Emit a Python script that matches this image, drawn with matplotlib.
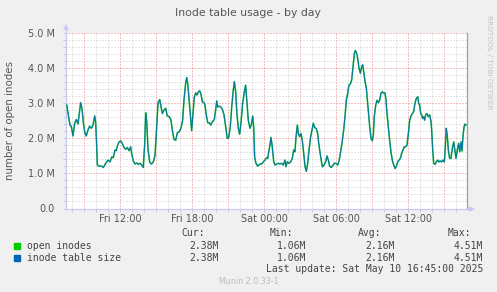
import datetime as dt
import matplotlib
matplotlib.use("Agg")
import matplotlib.pyplot as plt
import matplotlib.dates as mdates
from matplotlib.ticker import MultipleLocator, FuncFormatter
from matplotlib.patches import Rectangle

# ---- data (hours since Fri 2025-05-09 00:00, values in millions) ----
hours = [
    7.56, 7.67, 7.83, 7.94, 8.08, 8.22, 8.36, 8.50, 8.64, 8.72, 8.83, 8.94,
    9.08, 9.19, 9.33, 9.47, 9.61, 9.75, 9.89, 9.97, 10.06, 10.11, 10.25, 10.47,
    10.61, 10.81, 11.00, 11.17, 11.31, 11.44, 11.58, 11.69, 11.78, 11.92, 12.06,
    12.19, 12.33, 12.47, 12.61, 12.75, 12.89, 12.97, 13.11, 13.25, 13.39, 13.53,
    13.67, 13.81, 13.94, 14.06, 14.14, 14.22, 14.33, 14.47, 14.61, 14.78, 14.92,
    15.06, 15.17, 15.31, 15.42, 15.53, 15.67, 15.81, 15.94,
    16.11, 16.25, 16.36, 16.50, 16.64, 16.78, 16.94, 17.08, 17.22, 17.33, 17.47,
    17.56, 17.64, 17.75, 17.89, 17.97, 18.08, 18.19, 18.31, 18.42, 18.53, 18.64,
    18.75, 18.86, 19.00, 19.08, 19.19, 19.31, 19.44, 19.56, 19.69, 19.86, 19.97,
    20.06, 20.14, 20.25, 20.39, 20.53, 20.67, 20.81, 20.94, 21.06, 21.19, 21.31,
    21.44, 21.53, 21.64, 21.75, 21.86, 21.97, 22.08, 22.22, 22.36, 22.47, 22.56,
    22.69, 22.83, 22.94, 23.06, 23.14, 23.22, 23.33, 23.47, 23.67, 23.81, 23.94,
    24.08, 24.22, 24.31, 24.42, 24.50,
    24.58, 24.69, 24.81, 24.92, 25.06, 25.19, 25.33, 25.47, 25.61, 25.75, 25.83,
    25.94, 26.08, 26.22, 26.36, 26.47, 26.58, 26.67, 26.78, 26.86, 26.97, 27.08,
    27.19, 27.31, 27.42, 27.53, 27.64, 27.75, 27.89, 28.00, 28.11, 28.22, 28.36,
    28.47, 28.58, 28.72, 28.86, 29.00, 29.14, 29.25, 29.36, 29.47, 29.61, 29.75,
    29.86, 30.00, 30.14, 30.25, 30.39, 30.53, 30.64, 30.75, 30.86, 30.97, 31.08,
    31.19, 31.31, 31.42, 31.53, 31.61, 31.72, 31.81, 31.92, 32.03, 32.14, 32.22,
    32.33, 32.42, 32.53,
    32.72, 32.81, 32.92, 33.03, 33.11, 33.19, 33.31, 33.42, 33.53, 33.64, 33.75,
    33.86, 33.97, 34.08, 34.17, 34.25, 34.36, 34.47, 34.58, 34.69, 34.81, 34.92,
    35.03, 35.14, 35.25, 35.36, 35.47, 35.58, 35.69, 35.81, 35.92, 36.03, 36.14,
    36.25, 36.36, 36.47, 36.58, 36.69, 36.81, 36.89, 36.97, 37.06, 37.14, 37.22,
    37.31, 37.39, 37.47, 37.58, 37.69, 37.81, 37.92, 37.97, 38.06, 38.14, 38.25,
    38.36, 38.47, 38.58, 38.69, 38.81, 38.92, 39.03, 39.11, 39.19, 39.28, 39.36,
    39.47, 39.58, 39.69, 39.81, 39.92, 40.00, 40.11, 40.22, 40.31, 40.42, 40.50,
    40.58, 40.67, 40.75, 40.83,
]
open_inodes = [
    2.95, 2.71, 2.38, 2.35, 2.07, 2.43, 2.54, 2.41, 2.81, 3.02, 2.86, 2.47,
    2.14, 2.07, 2.24, 2.35, 2.29, 2.38, 2.64, 2.47, 1.76, 1.24, 1.21, 1.21,
    1.17, 1.29, 1.38, 1.33, 1.47, 1.45, 1.67, 1.65, 1.78, 1.90, 1.93,
    1.86, 1.74, 1.69, 1.74, 1.65, 1.76, 1.57, 1.36, 1.27, 1.30, 1.26,
    1.29, 1.24, 1.17, 1.86, 2.73, 2.52, 1.71, 1.33, 1.27, 1.33, 1.52,
    2.33, 3.02, 3.11, 2.90, 2.71, 2.81, 2.86, 2.64,
    2.62, 2.52, 2.24, 1.97, 1.95, 2.16, 2.19, 2.29, 2.52, 3.09, 3.57,
    3.74, 3.57, 3.14, 2.57, 2.22, 2.71, 3.17, 3.30, 3.24, 3.33, 3.36,
    3.26, 3.05, 3.02, 2.95, 2.67, 2.45, 2.45, 2.38, 2.47, 2.54, 2.81,
    3.07, 2.90, 2.92, 2.90, 2.83, 2.67, 2.33, 2.00, 2.03, 2.33, 2.90,
    3.38, 3.62, 3.33, 2.67, 2.29, 2.12, 2.43, 3.00, 3.33, 3.52, 3.12,
    2.52, 2.29, 2.38, 2.64, 2.33, 1.47, 1.29, 1.21, 1.27, 1.27, 1.33,
    1.38, 1.45, 1.43, 1.67, 1.81,
    2.03, 1.76, 1.33, 1.24, 1.27, 1.29, 1.27, 1.29, 1.24, 1.38, 1.19,
    1.33, 1.29, 1.33, 1.43, 1.67, 1.62, 2.05, 2.38, 2.14, 2.05, 2.14,
    1.95, 1.57, 1.19, 1.06, 1.29, 1.67, 2.05, 2.24, 2.43, 2.31, 2.28,
    2.14, 1.81, 1.48, 1.19, 1.24, 1.33, 1.50, 1.38, 1.21, 1.17, 1.24,
    1.29, 1.29, 1.24, 1.36, 1.62, 1.95, 2.24, 2.62, 3.09, 3.28, 3.52,
    3.55, 3.67, 4.05, 4.43, 4.51, 4.43, 4.28, 4.00, 3.86, 4.05, 4.10,
    3.86, 3.62, 3.43,
    2.67, 2.33, 2.00, 1.93, 2.09, 2.62, 2.95, 3.09, 3.02, 3.09, 3.29,
    3.33, 3.29, 3.30, 3.09, 2.71, 2.33, 1.95, 1.62, 1.38, 1.24, 1.14,
    1.21, 1.33, 1.38, 1.43, 1.57, 1.67, 1.76, 1.76, 1.81, 2.14, 2.52,
    2.64, 2.71, 2.76, 3.00, 3.14, 3.19, 3.00, 2.95, 2.71, 2.67, 2.57,
    2.62, 2.52, 2.67, 2.71, 2.62, 2.67, 2.48, 2.24, 1.67, 1.29, 1.26,
    1.33, 1.38, 1.33, 1.36, 1.33, 1.38, 1.33, 1.76, 2.29, 2.05, 1.67,
    1.43, 1.43, 1.71, 1.90, 1.62, 1.43, 1.67, 1.86, 1.62, 1.90, 1.64,
    2.05, 2.33, 2.41, 2.38,
]
inode_table_size = list(open_inodes)

series_labels = ["open inodes", "inode table size"]
series_colors = ["#00CC00", "#0066B3"]
stat_headers = ["Cur:", "Min:", "Avg:", "Max:"]
stats_open = ["2.38M", "1.06M", "2.16M", "4.51M"]
stats_table = ["2.38M", "1.06M", "2.16M", "4.51M"]
title = "Inode table usage - by day"
ylabel = "number of open inodes"
last_update = "Last update: Sat May 10 16:45:00 2025"
footer = "Munin 2.0.33-1"
watermark = "RRDTOOL / TOBI OETIKER"

base = dt.datetime(2025, 5, 9)
t_start = base + dt.timedelta(hours=7.5)
t_end = base + dt.timedelta(hours=40.875)
times = [base + dt.timedelta(hours=h) for h in hours]

W, H = 497, 292
fig = plt.figure(figsize=(W / 100, H / 100), dpi=100, facecolor="#F0F0F0")

def fx(px):
    return px / W

def fy(py):
    return 1 - py / H

L, R, T, B = 66, 466.5, 33.3, 208.5
ax = fig.add_axes([fx(L), fy(B), fx(R - L), (B - T) / H])
ax.set_facecolor("white")

ax.plot(times, open_inodes, color=series_colors[0], lw=1.15, zorder=3,
        solid_joinstyle="round", alpha=0.8)
ax.plot(times, inode_table_size, color=series_colors[1], lw=0.8, alpha=0.85,
        zorder=4, solid_joinstyle="round")

ax.set_xlim(t_start, t_end)
ax.set_ylim(0, 5.0)

ax.xaxis.set_major_locator(mdates.HourLocator(byhour=range(0, 24, 3)))
ax.xaxis.set_minor_locator(mdates.HourLocator())

def xfmt(x, pos):
    d = mdates.num2date(x)
    if d.hour % 6 == 0:
        return d.strftime("%a %H:%M")
    return ""

ax.xaxis.set_major_formatter(FuncFormatter(xfmt))
ax.yaxis.set_major_locator(MultipleLocator(1.0))
ax.yaxis.set_minor_locator(MultipleLocator(0.2))
ax.yaxis.set_major_formatter(FuncFormatter(lambda v, p: "0.0" if v == 0 else f"{v:.1f} M"))

dot = (0, (1, 2))
ax.grid(which="minor", color="#CCCCCC", lw=0.72, linestyle=dot, zorder=1)
ax.grid(which="major", color="#F08080", lw=0.72, linestyle=dot, zorder=2)
ax.set_axisbelow(True)

ax.spines["top"].set_visible(False)
ax.spines["right"].set_color("#A0A0A0")
ax.spines["right"].set_linewidth(0.9)
ax.spines["left"].set_color("#C8C8F0")
ax.spines["bottom"].set_color("#C8C8F0")
ax.spines["left"].set_linewidth(0.9)
ax.spines["bottom"].set_linewidth(0.9)

ax.tick_params(axis="both", which="both", colors="#C8C8E0", length=2, width=0.7,
               labelcolor="#555555", labelsize=7)
ax.tick_params(axis="y", which="major", pad=6)
ax.tick_params(axis="x", which="major", pad=2)
for lab in ax.get_xticklabels() + ax.get_yticklabels():
    lab.set_fontfamily("DejaVu Sans")

# axis arrows
ax.plot([0, 0], [1, 1.03], transform=ax.transAxes, color="#C8C8F0", lw=0.9, clip_on=False)
ax.plot([0], [1.035], transform=ax.transAxes, marker="^", ms=4, color="#C8C8F0",
        clip_on=False, mew=0)
ax.plot([1, 1.012], [0, 0], transform=ax.transAxes, color="#C8C8F0", lw=0.9, clip_on=False)
ax.plot([1.014], [0], transform=ax.transAxes, marker=">", ms=4, color="#C8C8F0",
        clip_on=False, mew=0)

# title & labels
fig.text(fx(248), fy(13), title, ha="center", va="center", fontsize=7.8,
         color="#555555", family="DejaVu Sans")
fig.text(fx(10.5), fy(120.5), ylabel, ha="center", va="center", rotation=90,
         fontsize=7.4, color="#555555", family="DejaVu Sans")
fig.text(fx(489), fy(15), watermark, ha="center", va="top", rotation=270,
         fontsize=5.3, color="#C4C4C4", family="DejaVu Sans")

# legend
mono = "DejaVu Sans Mono"
tc = "#444444"
fs = 7.0
head_x = [181.7, 270, 358.3, 447.7]
val_r = [218.3, 306, 394.3, 483.3]
for hx, htxt in zip(head_x, stat_headers):
    fig.text(fx(hx), fy(233.3), htxt, ha="left", va="center", fontsize=fs,
             color=tc, family=mono)
rows_y = [245.6, 257.6]
for ry, lab, col, vals in zip(rows_y, series_labels, series_colors,
                              [stats_open, stats_table]):
    fig.add_artist(Rectangle((fx(14), fy(ry + 3)), fx(6), 6 / H, color=col,
                             transform=fig.transFigure))
    fig.text(fx(26.7), fy(ry), lab, ha="left", va="center", fontsize=fs,
             color=tc, family=mono)
    for vr, v in zip(val_r, vals):
        fig.text(fx(vr), fy(ry), v, ha="right", va="center", fontsize=fs,
                 color=tc, family=mono)
fig.text(fx(483.3), fy(269.5), last_update, ha="right", va="center", fontsize=fs,
         color=tc, family=mono)
fig.text(fx(248.5), fy(281), footer, ha="center", va="center", fontsize=5.8,
         color="#BBBBBB", family="DejaVu Sans")

fig.savefig("out.png", dpi=100, facecolor=fig.get_facecolor())
